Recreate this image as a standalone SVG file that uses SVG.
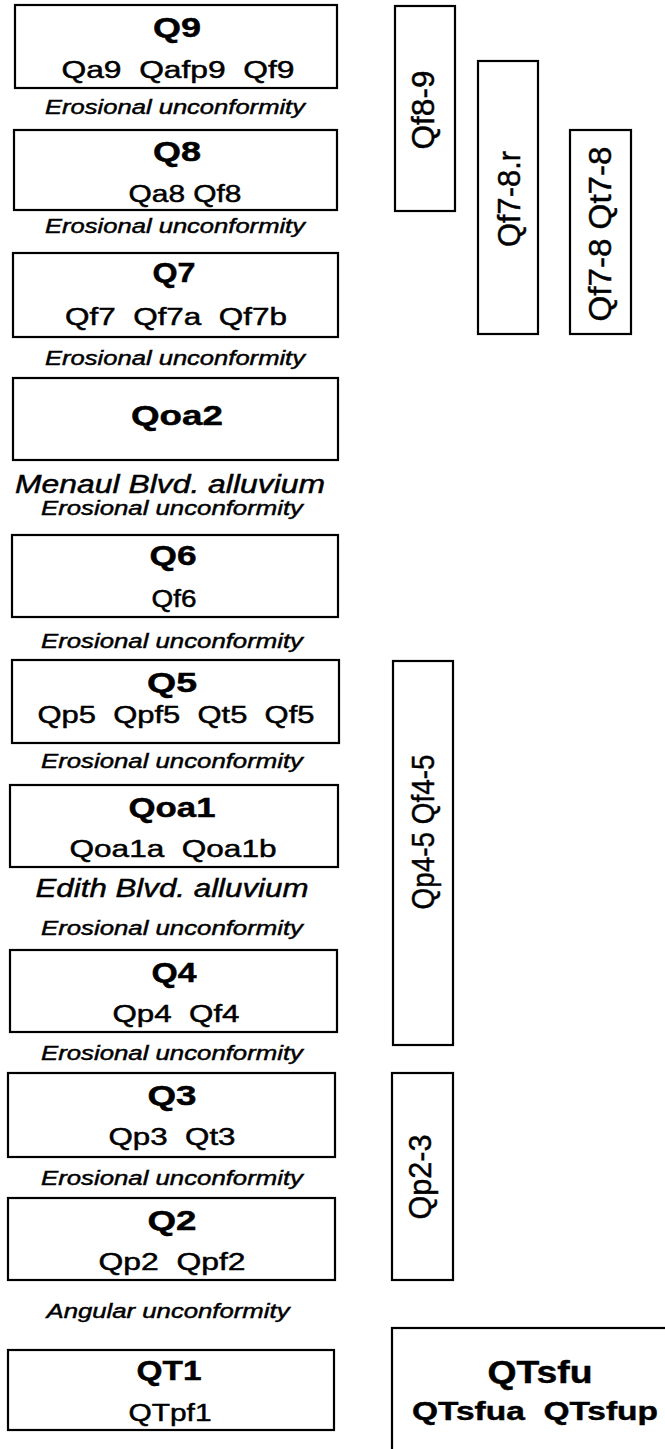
<svg xmlns="http://www.w3.org/2000/svg" width="665" height="1449" viewBox="0 0 665 1449">
  <style>
    .box { fill: #fff; stroke: #000; stroke-width: 2.2; }
    text { font-family: "Liberation Sans", Arial, sans-serif; fill: #000; text-anchor: middle; stroke: #000; stroke-width: 0.45; }
    .ttl { font-weight: bold; font-size: 27px; }
    .sub { font-size: 23px; }
    .unc { font-style: italic; font-size: 20px; }
    .nm { font-style: italic; font-size: 25px; }
    .rot { font-size: 31px; }
    .big { font-weight: bold; font-size: 31px; }
    .big2 { font-weight: bold; font-size: 26px; }
  </style>
  <rect width="665" height="1449" fill="#fff"/>

  <!-- main stratigraphic column -->
  <g id="Q9">
    <rect class="box" x="15" y="5" width="322" height="83"/>
    <text class="ttl" x="177" y="37" textLength="48" lengthAdjust="spacingAndGlyphs">Q9</text>
    <text class="sub" x="178" y="78" textLength="233" lengthAdjust="spacingAndGlyphs">Qa9&#160;&#160;Qafp9&#160;&#160;Qf9</text>
  </g>
  <text class="unc" x="175" y="114" textLength="260" lengthAdjust="spacingAndGlyphs">Erosional unconformity</text>

  <g id="Q8">
    <rect class="box" x="14" y="130" width="323" height="80"/>
    <text class="ttl" x="177" y="161" textLength="48" lengthAdjust="spacingAndGlyphs">Q8</text>
    <text class="sub" x="185" y="202" textLength="113" lengthAdjust="spacingAndGlyphs">Qa8 Qf8</text>
  </g>
  <text class="unc" x="175" y="233" textLength="260" lengthAdjust="spacingAndGlyphs">Erosional unconformity</text>

  <g id="Q7">
    <rect class="box" x="13" y="253" width="325" height="84"/>
    <text class="ttl" x="174" y="282" textLength="43" lengthAdjust="spacingAndGlyphs">Q7</text>
    <text class="sub" x="176" y="325" textLength="222" lengthAdjust="spacingAndGlyphs">Qf7&#160;&#160;Qf7a&#160;&#160;Qf7b</text>
  </g>
  <text class="unc" x="175" y="365" textLength="260" lengthAdjust="spacingAndGlyphs">Erosional unconformity</text>

  <g id="Qoa2">
    <rect class="box" x="13" y="378" width="325" height="82"/>
    <text class="ttl" x="177" y="425" textLength="92" lengthAdjust="spacingAndGlyphs">Qoa2</text>
  </g>
  <text class="nm" x="170" y="493" textLength="310" lengthAdjust="spacingAndGlyphs">Menaul Blvd. alluvium</text>
  <text class="unc" x="172" y="515" textLength="262" lengthAdjust="spacingAndGlyphs">Erosional unconformity</text>

  <g id="Q6">
    <rect class="box" x="12" y="535" width="326" height="82"/>
    <text class="ttl" x="173" y="565" textLength="47" lengthAdjust="spacingAndGlyphs">Q6</text>
    <text class="sub" x="174" y="607" textLength="45" lengthAdjust="spacingAndGlyphs">Qf6</text>
  </g>
  <text class="unc" x="172" y="648" textLength="262" lengthAdjust="spacingAndGlyphs">Erosional unconformity</text>

  <g id="Q5">
    <rect class="box" x="12" y="660" width="327" height="83"/>
    <text class="ttl" x="172" y="692" textLength="50" lengthAdjust="spacingAndGlyphs">Q5</text>
    <text class="sub" x="176" y="723" textLength="277" lengthAdjust="spacingAndGlyphs">Qp5&#160;&#160;Qpf5&#160;&#160;Qt5&#160;&#160;Qf5</text>
  </g>
  <text class="unc" x="172" y="768" textLength="262" lengthAdjust="spacingAndGlyphs">Erosional unconformity</text>

  <g id="Qoa1">
    <rect class="box" x="10" y="785" width="328" height="82"/>
    <text class="ttl" x="172" y="817" textLength="87" lengthAdjust="spacingAndGlyphs">Qoa1</text>
    <text class="sub" x="173" y="857" textLength="207" lengthAdjust="spacingAndGlyphs">Qoa1a&#160;&#160;Qoa1b</text>
  </g>
  <text class="nm" x="172" y="897" textLength="273" lengthAdjust="spacingAndGlyphs">Edith Blvd. alluvium</text>
  <text class="unc" x="172" y="935" textLength="262" lengthAdjust="spacingAndGlyphs">Erosional unconformity</text>

  <g id="Q4">
    <rect class="box" x="10" y="950" width="327" height="82"/>
    <text class="ttl" x="174" y="982" textLength="45" lengthAdjust="spacingAndGlyphs">Q4</text>
    <text class="sub" x="176" y="1022" textLength="127" lengthAdjust="spacingAndGlyphs">Qp4&#160;&#160;Qf4</text>
  </g>
  <text class="unc" x="172" y="1060" textLength="262" lengthAdjust="spacingAndGlyphs">Erosional unconformity</text>

  <g id="Q3">
    <rect class="box" x="8" y="1073" width="327" height="84"/>
    <text class="ttl" x="172" y="1105" textLength="49" lengthAdjust="spacingAndGlyphs">Q3</text>
    <text class="sub" x="172" y="1145" textLength="127" lengthAdjust="spacingAndGlyphs">Qp3&#160;&#160;Qt3</text>
  </g>
  <text class="unc" x="172" y="1185" textLength="262" lengthAdjust="spacingAndGlyphs">Erosional unconformity</text>

  <g id="Q2">
    <rect class="box" x="8" y="1198" width="327" height="82"/>
    <text class="ttl" x="172" y="1230" textLength="49" lengthAdjust="spacingAndGlyphs">Q2</text>
    <text class="sub" x="172" y="1270" textLength="147" lengthAdjust="spacingAndGlyphs">Qp2&#160;&#160;Qpf2</text>
  </g>
  <text class="unc" x="168" y="1318" textLength="243" lengthAdjust="spacingAndGlyphs">Angular unconformity</text>

  <g id="QT1">
    <rect class="box" x="8" y="1350" width="326" height="80"/>
    <text class="ttl" x="169" y="1380" textLength="65" lengthAdjust="spacingAndGlyphs">QT1</text>
    <text class="sub" x="170" y="1421" textLength="83" lengthAdjust="spacingAndGlyphs">QTpf1</text>
  </g>

  <!-- correlative units, labels rotated to read upward -->
  <g id="Qf8-9">
    <rect class="box" x="395" y="6" width="60" height="205"/>
    <text class="rot" transform="translate(434,110) rotate(-90)" textLength="79" lengthAdjust="spacingAndGlyphs">Qf8-9</text>
  </g>
  <g id="Qf7-8r">
    <rect class="box" x="478" y="61" width="60" height="273"/>
    <text class="rot" transform="translate(520,199) rotate(-90)" textLength="96" lengthAdjust="spacingAndGlyphs">Qf7-8.r</text>
  </g>
  <g id="Qf7-8-Qt7-8">
    <rect class="box" x="570" y="130" width="61" height="204"/>
    <text class="rot" transform="translate(611,234) rotate(-90)" textLength="175" lengthAdjust="spacingAndGlyphs">Qf7-8 Qt7-8</text>
  </g>
  <g id="Qp4-5-Qf4-5">
    <rect class="box" x="393" y="661" width="60" height="384"/>
    <text class="rot" transform="translate(434,832) rotate(-90)" textLength="155" lengthAdjust="spacingAndGlyphs">Qp4-5 Qf4-5</text>
  </g>
  <g id="Qp2-3">
    <rect class="box" x="392" y="1073" width="61" height="207"/>
    <text class="rot" transform="translate(431,1177) rotate(-90)" textLength="85" lengthAdjust="spacingAndGlyphs">Qp2-3</text>
  </g>

  <!-- upper Santa Fe Group, open to the right and below -->
  <g id="QTsfu">
    <rect class="box" x="392" y="1328" width="300" height="140"/>
    <text class="big" x="540" y="1383" textLength="105" lengthAdjust="spacingAndGlyphs">QTsfu</text>
    <text class="big2" x="535" y="1420" textLength="246" lengthAdjust="spacingAndGlyphs">QTsfua&#160;&#160;QTsfup</text>
  </g>

  <!-- no connectors in this chart -->
  <g id="connectors"/>
</svg>
